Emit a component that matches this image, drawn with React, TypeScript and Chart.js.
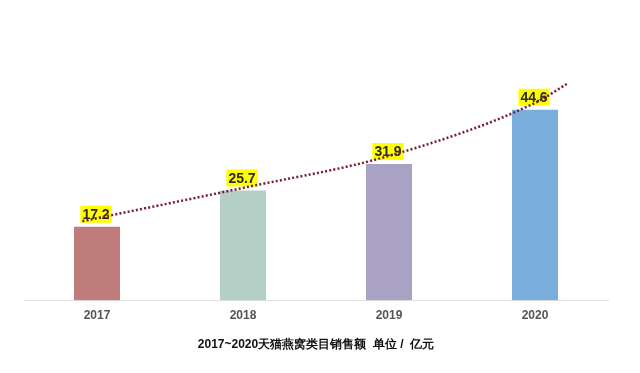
import React, { useEffect, useRef } from "react";
import { Chart, registerables } from "chart.js";

Chart.register(...registerables);

const categories = ["2017", "2018", "2019", "2020"];
const salesValues = [17.2, 25.7, 31.9, 44.6];
const barColors = ["#c07b7b", "#b3cfc6", "#a9a2c5", "#79aedd"];
const trendX = [-0.1, 1, 2, 3, 3.23];
const trendY = [18.5, 26.3, 33.8, 46.2, 50.9];
const titleText = "2017~2020天猫燕窝类目销售额  单位 /  亿元";

const FONT = "'Liberation Sans', Arial, sans-serif";

const labelPlugin = {
  id: "barLabels",
  afterDatasetDraw(chart: any, args: any) {
    if (args.index !== 0) return;
    const ctx = chart.ctx;
    const meta = chart.getDatasetMeta(0);
    ctx.save();
    ctx.font = `bold 14px ${FONT}`;
    ctx.textAlign = "center";
    ctx.textBaseline = "middle";
    meta.data.forEach((el: any, i: number) => {
      const txt = String(salesValues[i]);
      const w = ctx.measureText(txt).width + 4;
      const h = 17;
      const cx = el.x - 1;
      const bottom = el.y - 4;
      ctx.fillStyle = "#ffff00";
      ctx.fillRect(cx - w / 2, bottom - h, w, h);
      ctx.fillStyle = "#2b2b2b";
      ctx.fillText(txt, cx, bottom - h / 2 + 1);
    });
    ctx.restore();
  },
};

export default function App() {
  const ref = useRef<HTMLCanvasElement>(null);
  useEffect(() => {
    const chart = new Chart(ref.current!, {
      type: "bar",
      data: {
        labels: categories,
        datasets: [
          {
            type: "bar",
            data: salesValues,
            backgroundColor: barColors,
            categoryPercentage: 1,
            barPercentage: 0.315,
            grouped: false,
            order: 1,
            xAxisID: "x",
          } as any,
          {
            type: "line",
            data: trendX.map((x, i) => ({ x, y: trendY[i] })),
            borderColor: "#7a1c2a",
            borderWidth: 2.5,
            borderDash: [2, 2.2],
            pointRadius: 0,
            tension: 0.4,
            cubicInterpolationMode: "monotone",
            order: 0,
            xAxisID: "xt",
          } as any,
        ],
      },
      options: {
        animation: false,
        responsive: false,
        layout: { padding: { left: 24, right: 32, top: 44, bottom: 21 } },
        plugins: {
          legend: { display: false },
          tooltip: { enabled: false },
          title: {
            display: true,
            position: "bottom",
            text: titleText,
            color: "#111111",
            font: { family: FONT, size: 12, weight: "bold" },
            padding: { top: 7, bottom: 0 },
          },
        },
        scales: {
          x: {
            grid: { display: false, drawTicks: false },
            border: { display: true, color: "#dedede", width: 1 },
            ticks: {
              color: "#555555",
              padding: 8,
              font: { family: FONT, size: 12, weight: "bold" },
            },
          },
          xt: {
            type: "linear",
            display: false,
            offset: false,
            min: -0.5,
            max: 3.5,
          },
          y: {
            display: false,
            min: 0,
            max: 60,
          },
        },
      } as any,
      plugins: [labelPlugin],
    });
    return () => chart.destroy();
  }, []);
  return (
    <div style={{ position: "absolute", left: 0, top: 0, width: 640, height: 373, background: "#fff" }}>
      <canvas ref={ref} width={640} height={373} style={{ width: 640, height: 373 }} />
    </div>
  );
}
